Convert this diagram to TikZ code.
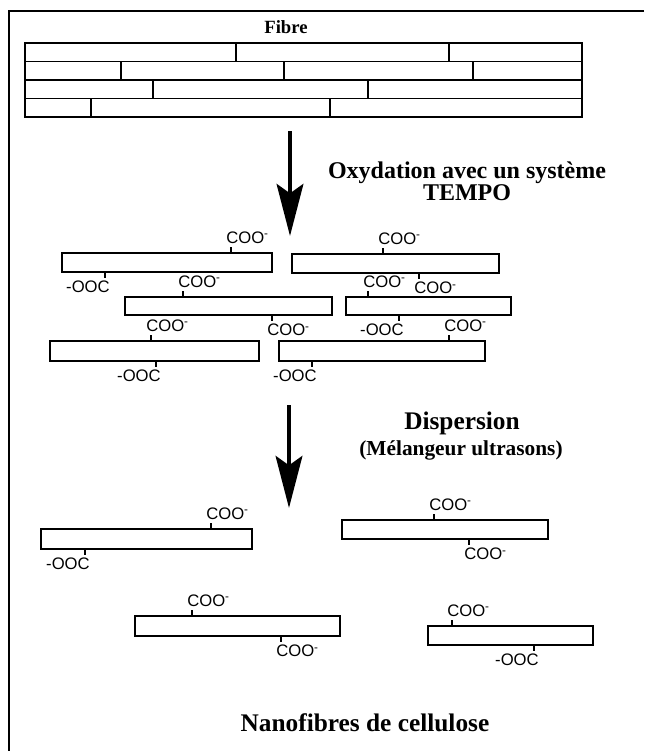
\documentclass[tikz,border=0pt]{standalone}
\usepackage{fontspec}
\setmainfont{Liberation Serif}
\newfontfamily\grpfont{Liberation Sans}
\usetikzlibrary{arrows.meta}

\tikzset{
  bar/.style={draw, line width=1pt},
  grp/.style={font=\grpfont\fontsize{12.5}{12.5}\selectfont, inner sep=0pt},
  stage/.style={font=\bfseries\fontsize{18}{16.5}\selectfont, align=center, inner sep=0pt},
  flow/.style={line width=3.2pt, -{Stealth[length=39pt, width=20pt, inset=7pt]}}
}

% carboxyl groups: name, x, y of the fibre edge
\newcommand{\cooup}[3]{%
  \coordinate (#1) at (#2,#3);
  \coordinate (#1t) at ({#2},{#3-6});
  \node[grp, anchor=south west] (#1l) at ({#2-5},{#3-9}) {COO\textsuperscript{-}};
  \path[draw, line width=1pt] (#1) -- (#1t);}
\newcommand{\coodown}[3]{%
  \coordinate (#1) at (#2,#3);
  \coordinate (#1t) at ({#2},{#3+6});
  \node[grp, anchor=north west] (#1l) at ({#2-5},{#3+9}) {COO\textsuperscript{-}};
  \path[draw, line width=1pt] (#1) -- (#1t);}
\newcommand{\oocdown}[3]{%
  \coordinate (#1) at (#2,#3);
  \coordinate (#1t) at ({#2},{#3+6});
  \node[grp, anchor=north east] (#1l) at ({#2+5},{#3+9}) {-OOC};
  \path[draw, line width=1pt] (#1) -- (#1t);}

\begin{document}
\begin{tikzpicture}[x=0.75pt, y=-0.75pt]
\useasboundingbox (0,0) rectangle (644,751);
\path[draw, line width=0.8pt] (644,11) -- (9,11) -- (9,751);

% fibre
\node[stage, font=\bfseries\fontsize{14}{14}\selectfont] (fibre) at (286,27) {Fibre};
\draw[bar, line width=1.2pt] (25,43) rectangle (582,117);
\foreach \y in {61.5,80,98.5}
  \path[draw, line width=1.2pt] (25,\y) -- (582,\y);
\foreach \x/\ya/\yb in {236/43/61.5, 449/43/61.5, 121/61.5/80, 284/61.5/80, 473/61.5/80,
    153/80/98.5, 368/80/98.5, 91/98.5/117, 330/98.5/117}
  \path[draw, line width=1.2pt] (\x,\ya) -- (\x,\yb);

% oxydation
\coordinate (a1s) at (290,131);
\coordinate (a1e) at (290,236);
\draw[flow] (a1s) -- (a1e);
\node[stage] (oxy) at (467,181) {Oxydation avec un système\\TEMPO};

\draw[bar] (62,253) rectangle (272,272);
\draw[bar] (292,254) rectangle (499,273);
\draw[bar] (125,297) rectangle (332,315);
\draw[bar] (346,297) rectangle (511,315);
\draw[bar] (50,341) rectangle (259,361);
\draw[bar] (279,341) rectangle (485,361);
\cooup{c1}{231}{253}
\oocdown{c2}{105}{272}
\cooup{c3}{383}{254}
\coodown{c4}{419}{273}
\cooup{c5}{183}{297}
\coodown{c6}{272}{315}
\cooup{c7}{368}{297}
\oocdown{c8}{399}{315}
\cooup{c9}{151}{341}
\oocdown{c10}{156}{361}
\cooup{c11}{449}{341}
\oocdown{c12}{312}{361}

% dispersion
\coordinate (a2s) at (289,405);
\coordinate (a2e) at (289,508);
\draw[flow] (a2s) -- (a2e);
\node[stage, font=\bfseries\fontsize{19}{19}\selectfont] (disp) at (462,423) {Dispersion};
\node[stage, font=\bfseries\fontsize{16}{16}\selectfont] (mel) at (461,450) {(Mélangeur ultrasons)};

\draw[bar] (41,529) rectangle (252,549);
\draw[bar] (342,520) rectangle (548,539);
\draw[bar] (135,616) rectangle (340,636);
\draw[bar] (428,626) rectangle (593,645);
\cooup{d1}{211}{529}
\oocdown{d2}{85}{549}
\cooup{d3}{434}{520}
\coodown{d4}{469}{539}
\cooup{d5}{192}{616}
\coodown{d6}{281}{636}
\cooup{d7}{452}{626}
\oocdown{d8}{534}{645}

\node[stage, font=\bfseries\fontsize{19}{19}\selectfont] (nano) at (365,723) {Nanofibres de cellulose};
\end{tikzpicture}
\end{document}
